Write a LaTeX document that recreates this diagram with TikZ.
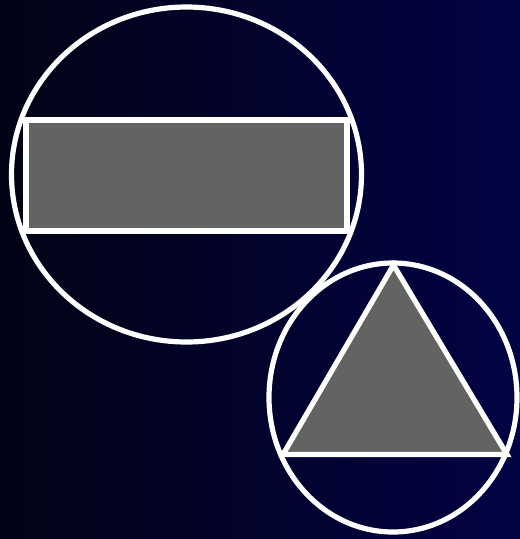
\documentclass[tikz,border=0pt]{standalone}
\definecolor{bgleft}{RGB}{3,3,22}
\definecolor{bgright}{RGB}{2,3,68}
\definecolor{shapegray}{RGB}{98,100,98}
\begin{document}
\begin{tikzpicture}[x=1pt,y=-1pt,
  outline/.style={draw=white,line width=5.2pt},
  filled/.style={outline,fill=shapegray,line join=miter}]
\shade[left color=bgleft,right color=bgright] (0,0) rectangle (520,539);
\useasboundingbox (0,0) rectangle (520,539);
% big ellipse with rectangle
\draw[outline] (186.5,174.5) ellipse [x radius=175, y radius=167.5];
\draw[filled] (26,120) rectangle (347,231);
% small ellipse with triangle
\draw[outline] (393,397.5) ellipse [x radius=124, y radius=134.5];
\draw[filled] (393.5,265) -- (507,454.5) -- (283,454.5) -- cycle;
\end{tikzpicture}
\end{document}
